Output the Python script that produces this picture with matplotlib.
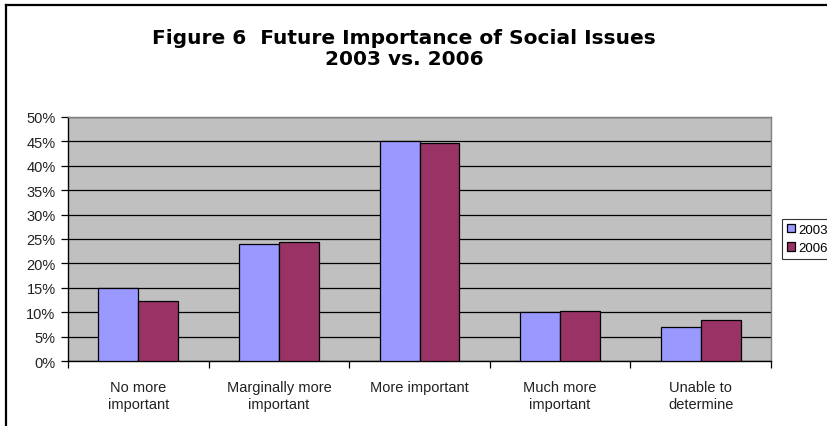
import matplotlib
matplotlib.use("Agg")
import matplotlib.pyplot as plt
from matplotlib.lines import Line2D
from matplotlib.ticker import MultipleLocator, PercentFormatter
import numpy as np

categories = ["No more\nimportant", "Marginally more\nimportant", "More important",
              "Much more\nimportant", "Unable to\ndetermine"]
series_names = ["2003", "2006"]
values_2003 = [15.0, 23.9, 45.0, 10.0, 6.9]
values_2006 = [12.2, 24.3, 44.7, 10.2, 8.4]
colors = ["#9999FF", "#993366"]

W, H = 828, 427
fig = plt.figure(figsize=(W / 100, H / 100), dpi=100)
fig.patch.set_facecolor("white")

# outer chart frame (top and left edges)
fig.add_artist(Line2D([6.5 / W, 1.0], [1 - 5.5 / H, 1 - 5.5 / H], color="black", lw=1.6,
                      transform=fig.transFigure))
fig.add_artist(Line2D([6.5 / W, 6.5 / W], [0.0, 1 - 5.5 / H], color="black", lw=1.6,
                      transform=fig.transFigure))

left, right, top, bottom = 68, 771, 118, 362
ax = fig.add_axes([left / W, 1 - bottom / H, (right - left) / W, (bottom - top) / H])
ax.set_facecolor("#C0C0C0")

x = np.arange(len(categories))
bw = 0.284
ax.bar(x - bw / 2, values_2003, bw, color=colors[0], edgecolor="black", linewidth=0.9,
       label=series_names[0], zorder=3)
ax.bar(x + bw / 2, values_2006, bw, color=colors[1], edgecolor="black", linewidth=0.9,
       label=series_names[1], zorder=3)

ax.set_xlim(-0.5, len(categories) - 0.5)
ax.set_ylim(0, 50)
ax.yaxis.set_major_locator(MultipleLocator(5))
ax.yaxis.set_major_formatter(PercentFormatter(decimals=0))
ax.yaxis.grid(True, color="black", linewidth=0.9, zorder=1)
ax.set_axisbelow(True)

ax.set_xticks(np.arange(len(categories) + 1) - 0.5)
ax.set_xticklabels([])
ax.set_xticks(x, minor=True)
ax.set_xticklabels(categories, minor=True, fontfamily="Liberation Sans", fontsize=10.5,
                   color="#222222", linespacing=1.25)
ax.tick_params(axis="x", which="minor", length=0, pad=14)
ax.tick_params(axis="x", which="major", length=5, width=0.9, direction="out")
ax.tick_params(axis="y", length=5, width=0.9, direction="out", pad=4,
               labelsize=10.5, labelcolor="#222222")
for lab in ax.get_yticklabels():
    lab.set_fontfamily("Liberation Sans")

for s in ("left", "bottom"):
    ax.spines[s].set_color("black")
    ax.spines[s].set_linewidth(1.0)
for s in ("top", "right"):
    ax.spines[s].set_color("#808080")
    ax.spines[s].set_linewidth(1.0)

fig.text(404 / W, 1 - 49 / H, "Figure 6  Future Importance of Social Issues\n2003 vs. 2006",
         ha="center", va="center", fontsize=14.5, fontweight="bold", fontfamily="DejaVu Sans",
         linespacing=1.12)

leg = fig.legend(loc="upper left", bbox_to_anchor=(782 / W, 1 - 220 / H),
                 prop={"family": "Liberation Sans", "size": 9.5},
                 frameon=True, fancybox=False, edgecolor="black", borderpad=0.35,
                 handlelength=0.6, handleheight=0.6, handletextpad=0.3, labelspacing=0.5,
                 borderaxespad=0)
leg.get_frame().set_linewidth(0.8)

fig.savefig("out.png", dpi=100)
